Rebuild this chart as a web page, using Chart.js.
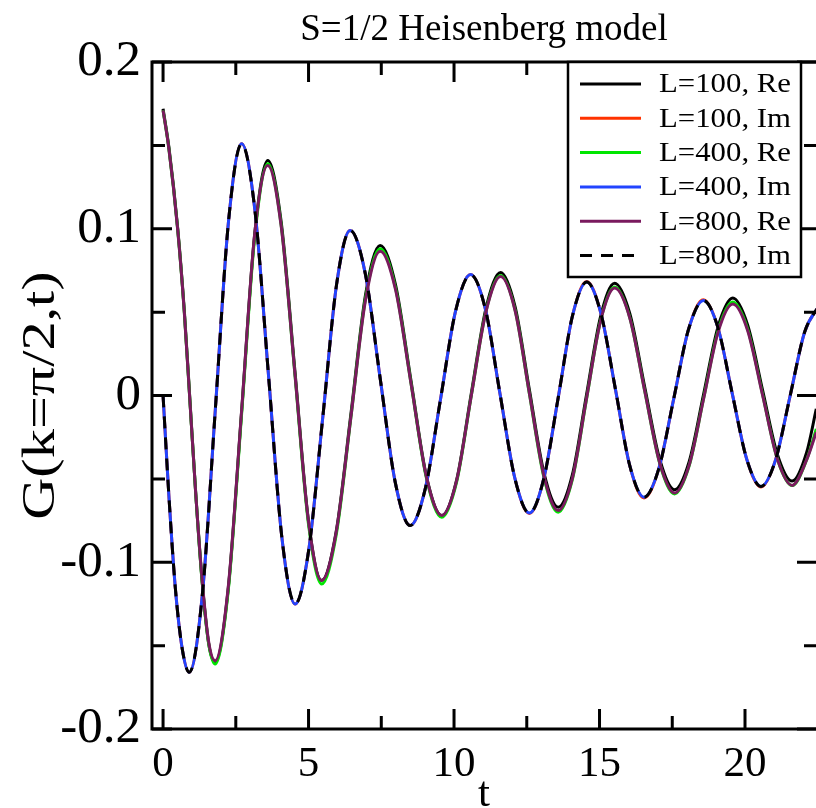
<!DOCTYPE html>
<html>
<head>
<meta charset="utf-8">
<script src="https://cdn.jsdelivr.net/npm/chart.js@4.4.0/dist/chart.umd.min.js"></script>
<style>
  html, body { margin: 0; padding: 0; background: #fff; overflow: hidden; }
</style>
</head>
<body>
<canvas id="chart" width="816" height="808"></canvas>
<script>
// times (Re curves and Im curves)
const tRe = [0, 0.2, 0.5, 0.73, 0.9, 1.12, 1.34, 1.57, 1.79, 2.24, 2.70, 3.15, 3.60, 4.06, 4.53, 4.99, 5.45,
  5.95, 6.46, 6.96, 7.46, 7.99, 8.52, 9.05, 9.58, 10.09, 10.59, 11.10, 11.60, 12.10, 12.59, 13.09, 13.58,
  14.07, 14.55, 15.04, 15.52, 16.04, 16.55, 17.07, 17.58, 18.08, 18.58, 19.08, 19.58, 20.09, 20.60, 21.11,
  21.62, 22.12, 22.45];
const tIm = [0, 0.2, 0.42, 0.66, 0.90, 1.35, 1.80, 2.25, 2.70, 3.16, 3.62, 4.08, 4.54, 5.01, 5.49, 5.96, 6.43,
  6.95, 7.46, 7.98, 8.49, 9.01, 9.53, 10.05, 10.57, 11.08, 11.58, 12.09, 12.59, 13.08, 13.58, 14.07, 14.56,
  15.05, 15.55, 16.04, 16.53, 17.04, 17.55, 18.06, 18.57, 19.07, 19.56, 20.06, 20.55, 21.05, 21.55, 22.05, 22.55];

const re100 = [0.172, 0.149, 0.101, 0.051, 0.004, -0.058, -0.111, -0.149, -0.160, -0.1159, -0.0095, 0.0969, 0.141,
  0.1041, 0.015, -0.0741, -0.111, -0.0816, -0.0105, 0.0606, 0.090, 0.0663, 0.009, -0.0483, -0.072, -0.0506, 0.0009,
  0.0524, 0.0738, 0.0532, 0.0034, -0.0464, -0.067, -0.0473, 0.0002, 0.0476, 0.0673, 0.0492, 0.0054, -0.0384, -0.0565,
  -0.0397, 0.001, 0.0416, 0.0584, 0.0423, 0.0036, -0.0352, -0.0513, -0.034, -0.008];
const im100 = [0, -0.060, -0.115, -0.152, -0.166, -0.1195, -0.0075, 0.1045, 0.151, 0.1106, 0.013, -0.0846, -0.125,
  -0.0922, -0.013, 0.0662, 0.099, 0.0731, 0.0105, -0.0521, -0.078, -0.0560, -0.0028, 0.0504, 0.0725, 0.0516, 0.001,
  -0.0496, -0.0708, -0.0502, -0.0013, 0.0477, 0.0684, 0.0491, 0.0035, -0.0421, -0.0614, -0.0437, -0.002, 0.0397,
  0.0574, 0.0407, 0.0013, -0.0382, -0.0549, -0.0386, -0.0003, 0.0381, 0.054];
const re400 = [0.171, 0.148, 0.100, 0.050, 0.003, -0.058, -0.111, -0.149, -0.161, -0.117, -0.011, 0.095, 0.139,
  0.102, 0.013, -0.076, -0.113, -0.0836, -0.0125, 0.0586, 0.088, 0.0644, 0.0075, -0.0494, -0.073, -0.0518, -0.0005,
  0.0508, 0.072, 0.0512, 0.001, -0.0492, -0.070, -0.0502, -0.0025, 0.0452, 0.065, 0.0468, 0.003, -0.0408, -0.059,
  -0.0422, -0.0015, 0.0392, 0.056, 0.0399, 0.001, -0.0379, -0.054, -0.0385, -0.020];
const im400 = [0, -0.060, -0.115, -0.152, -0.166, -0.1195, -0.0075, 0.1045, 0.151, 0.1106, 0.013, -0.0846, -0.125,
  -0.0922, -0.013, 0.0662, 0.099, 0.0731, 0.0105, -0.0521, -0.078, -0.0560, -0.0028, 0.0504, 0.0725, 0.0516, 0.001,
  -0.0496, -0.0705, -0.0502, -0.0013, 0.0477, 0.068, 0.0491, 0.0035, -0.0421, -0.061, -0.0437, -0.002, 0.0397,
  0.057, 0.0407, 0.0013, -0.0382, -0.0545, -0.0386, -0.0003, 0.0381, 0.054];
const re800 = [0.171, 0.148, 0.100, 0.050, 0.003, -0.058, -0.110, -0.148, -0.159, -0.115, -0.009, 0.097, 0.138,
  0.1015, 0.0135, -0.0745, -0.111, -0.0821, -0.0123, 0.0575, 0.0865, 0.0634, 0.0073, -0.0488, -0.072, -0.0511,
  -0.0004, 0.0503, 0.0713, 0.0508, 0.0012, -0.0484, -0.069, -0.0495, -0.0023, 0.0449, 0.0644, 0.0465, 0.003,
  -0.0405, -0.0585, -0.0419, -0.0018, 0.0383, 0.0549, 0.0390, 0.0005, -0.0380, -0.0539, -0.0385, -0.022];
const im800 = [0, -0.060, -0.115, -0.152, -0.166, -0.1195, -0.0075, 0.1045, 0.151, 0.1106, 0.013, -0.0846, -0.125,
  -0.0922, -0.013, 0.0662, 0.099, 0.0731, 0.0105, -0.0521, -0.078, -0.0560, -0.0028, 0.0504, 0.0725, 0.0516, 0.001,
  -0.0496, -0.0705, -0.0502, -0.0013, 0.0477, 0.068, 0.0491, 0.0035, -0.0421, -0.061, -0.0437, -0.002, 0.0397,
  0.057, 0.0407, 0.0013, -0.0382, -0.0545, -0.0386, -0.0003, 0.0381, 0.054];

const labels = ["L=100, Re", "L=100, Im", "L=400, Re", "L=400, Im", "L=800, Re", "L=800, Im"];
const xTickLabels = ["0", "5", "10", "15", "20"];
const yTickLabels = ["-0.2", "-0.1", "0", "0.1", "0.2"];

const serif = "'Liberation Serif', 'Times New Roman', serif";

function pts(ts, vals) {
  return ts.map((t, i) => ({ x: t, y: vals[i] }));
}

const styles = [
  { color: "#000000", dash: [] },
  { color: "#ff3300", dash: [] },
  { color: "#00e600", dash: [] },
  { color: "#2244ff", dash: [] },
  { color: "#7a1a5e", dash: [] },
  { color: "#000000", dash: [12, 9] },
];
const values = [[tRe, re100], [tIm, im100], [tRe, re400], [tIm, im400], [tRe, re800], [tIm, im800]];

const datasets = values.map((v, i) => ({
  label: labels[i],
  data: pts(v[0], v[1]),
  borderColor: styles[i].color,
  backgroundColor: styles[i].color,
  borderDash: styles[i].dash,
  borderWidth: 3,
  pointRadius: 0,
  fill: false,
  cubicInterpolationMode: "monotone",
  order: 5 - i,
}));

function near(a, b) { return Math.abs(a - b) < 1e-6; }

// text drawn with a horizontal stretch, the reference font is wider than Liberation Serif
function stretchText(ctx, text, x, y, size, sx, rot) {
  ctx.save();
  ctx.translate(x, y);
  if (rot) ctx.rotate(rot);
  ctx.scale(sx, 1);
  ctx.font = size + "px " + serif;
  ctx.fillStyle = "#000";
  ctx.textBaseline = "middle";
  ctx.fillText(text, 0, 0);
  ctx.restore();
}

// frame + inward ticks on all four sides
const frameTicks = {
  id: "frameTicks",
  afterDraw(chart) {
    const ctx = chart.ctx, a = chart.chartArea;
    const xs = chart.scales.x, ys = chart.scales.y;
    ctx.save();
    ctx.strokeStyle = "#000";
    ctx.lineWidth = 3;
    ctx.beginPath();
    ctx.moveTo(a.right + 2, a.top);
    ctx.lineTo(a.left, a.top);
    ctx.lineTo(a.left, a.bottom);
    ctx.lineTo(a.right + 2, a.bottom);
    ctx.stroke();
    ctx.beginPath();
    xs.ticks.forEach(t => {
      const px = xs.getPixelForValue(t.value);
      const len = near(t.value % 5, 0) ? 20 : 13;
      ctx.moveTo(px, a.bottom); ctx.lineTo(px, a.bottom - len);
      ctx.moveTo(px, a.top); ctx.lineTo(px, a.top + len);
    });
    ys.ticks.forEach(t => {
      const py = ys.getPixelForValue(t.value);
      const len = Math.round(t.value / 0.05) % 2 === 0 ? 20 : 13;
      ctx.moveTo(a.left, py); ctx.lineTo(a.left + len, py);
      ctx.moveTo(a.right + 1, py); ctx.lineTo(a.right + 1 - len, py);
    });
    ctx.stroke();
    ctx.restore();

    // y axis title
    ctx.save();
    ctx.textAlign = "center";
    stretchText(ctx, "G(k=π/2,t)", 42, (a.top + a.bottom) / 2, 47, 1.24, -Math.PI / 2);
    ctx.restore();
  }
};

const legendBox = {
  id: "legendBox",
  afterDraw(chart) {
    const ctx = chart.ctx, a = chart.chartArea;
    const x0 = a.right - 248, y0 = a.top, w = 233, h = 215;
    ctx.save();
    ctx.fillStyle = "#fff";
    ctx.fillRect(x0, y0, w, h);
    ctx.strokeStyle = "#000";
    ctx.lineWidth = 2.5;
    ctx.strokeRect(x0, y0, w, h);
    chart.data.datasets.forEach((ds, i) => {
      const y = y0 + 22 + i * 34.3;
      ctx.beginPath();
      ctx.strokeStyle = ds.borderColor;
      ctx.lineWidth = 3;
      ctx.setLineDash(ds.borderDash || []);
      ctx.moveTo(x0 + 12, y);
      ctx.lineTo(x0 + 73, y);
      ctx.stroke();
      ctx.setLineDash([]);
      ctx.textAlign = "left";
      stretchText(ctx, ds.label, x0 + 91, y + 1, 28, 1.1, 0);
    });
    ctx.restore();
  }
};

new Chart(document.getElementById("chart"), {
  type: "line",
  data: { datasets },
  options: {
    responsive: false,
    animation: false,
    layout: { padding: 0 },
    plugins: {
      legend: { display: false },
      tooltip: { enabled: false },
      title: {
        display: true,
        text: "S=1/2 Heisenberg model",
        color: "#000",
        fullSize: false,
        font: { family: serif, size: 37, weight: "normal", lineHeight: 1 },
        padding: { top: 12, bottom: 13 },
      },
    },
    scales: {
      x: {
        type: "linear",
        min: -0.38,
        max: 22.44,
        grid: { display: false, drawTicks: false },
        border: { display: false },
        ticks: {
          autoSkip: false,
          maxRotation: 0,
          color: "#000",
          padding: 10,
          font: { family: serif, size: 43 },
          callback: v => xTickLabels.find(s => near(+s, v)) || "",
        },
        title: {
          display: true,
          text: "t",
          color: "#000",
          font: { family: serif, size: 43, lineHeight: 0.6 },
          padding: { top: 0, bottom: 0 },
        },
        afterBuildTicks: s => {
          s.ticks = [];
          for (let v = 0; v <= s.max + 1e-9; v += 2.5) s.ticks.push({ value: v });
        },
        afterFit: s => { s.height = 79; },
      },
      y: {
        type: "linear",
        min: -0.2,
        max: 0.2,
        grid: { display: false, drawTicks: false },
        border: { display: false },
        ticks: {
          autoSkip: false,
          color: "#000",
          padding: 11,
          font: { family: serif, size: 51 },
          callback: v => yTickLabels.find(s => near(+s, v)) || "",
        },
        afterBuildTicks: s => {
          s.ticks = [];
          for (let k = -4; k <= 4; k++) s.ticks.push({ value: k * 0.05 });
        },
        afterFit: s => { s.width = 152; },
      },
    },
  },
  plugins: [frameTicks, legendBox],
});
</script>
</body>
</html>
